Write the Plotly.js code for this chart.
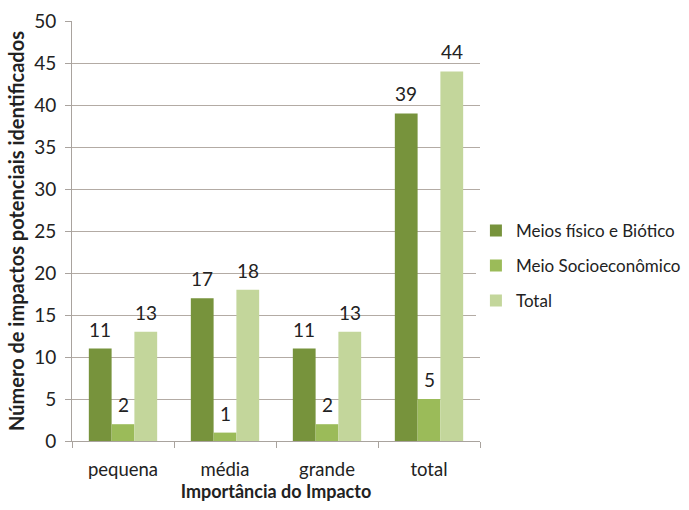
<!DOCTYPE html>
<html><head><meta charset="utf-8">
<script src="https://cdn.plot.ly/plotly-3.0.1.min.js"></script>
<style>body{margin:0;background:#fff}#c{width:689px;height:510px}</style>
</head><body><div id="c"></div>
<script>
const categories = ['pequena', 'média', 'grande', 'total'];
const seriesNames = ['Meios físico e Biótico', 'Meio Socioeconômico', 'Total'];
const fisicoBiotico = [11, 17, 11, 39];
const socioeconomico = [2, 1, 2, 5];
const totalSerie = [13, 18, 13, 44];
const colors = ['#77933c', '#9bbb59', '#c3d69b'];
const values = [fisicoBiotico, socioeconomico, totalSerie];
const FONT = 'Lato, "Open Sans", sans-serif';
const BARGAP = 0.33;
const traces = values.map((v, i) => ({
  type: 'bar', x: categories, y: v, name: seriesNames[i],
  marker: {color: colors[i]}, legendgroup: 'g' + i, hoverinfo: 'y'
}));
// value labels placed above each bar
const barW = (1 - BARGAP) / values.length;
const annotations = [];
values.forEach((v, i) => {
  v.forEach((val, j) => {
    annotations.push({
      x: j + (i - (values.length - 1) / 2) * barW, y: val, xref: 'x', yref: 'y',
      text: String(val), showarrow: false, yanchor: 'bottom', yshift: 6,
      font: {family: FONT, size: 19, color: '#222'}
    });
  });
});
const layout = {
  width: 689, height: 510,
  margin: {l: 72, r: 209, t: 21, b: 69, autoexpand: false},
  paper_bgcolor: '#fff', plot_bgcolor: '#fff',
  barmode: 'group', bargap: BARGAP, bargroupgap: 0,
  font: {family: FONT, color: '#222'},
  annotations: annotations,
  xaxis: {
    showline: true, linecolor: '#a9a39e', ticks: 'outside', tickson: 'boundaries',
    ticklen: 6, tickcolor: '#a9a39e', tickfont: {size: 18.5, color: '#222'},
    ticklabelstandoff: 12, automargin: false,
    title: {text: '<b>Importância do Impacto</b>', font: {size: 18, color: '#222'}, standoff: 6}
  },
  yaxis: {
    range: [0, 50], dtick: 5, showgrid: true, gridcolor: '#b3aba4', gridwidth: 1,
    showline: true, linecolor: '#a9a39e', ticks: 'outside', ticklen: 6, tickcolor: '#a9a39e',
    zeroline: false, tickfont: {size: 19, color: '#222'}, ticklabelstandoff: 5, automargin: false,
    title: {text: '<b>Número de impactos potenciais identificados</b>', font: {size: 20, color: '#222'}, standoff: 4}
  },
  showlegend: true,
  legend: {x: 0.99, y: 0.417, yanchor: 'middle', xanchor: 'left', tracegroupgap: 10,
    font: {size: 17, color: '#222'}, itemwidth: 30}
};
Plotly.newPlot('c', traces, layout, {displayModeBar: false});
</script></body></html>
